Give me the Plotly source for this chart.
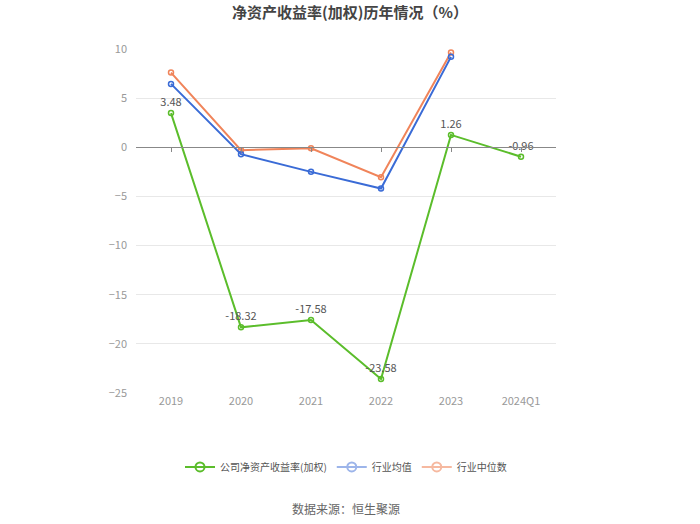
import plotly.graph_objects as go

categories = ["2019", "2020", "2021", "2022", "2023", "2024Q1"]
company_roe = [3.48, -18.32, -17.58, -23.58, 1.26, -0.96]
industry_avg = [6.45, -0.7, -2.5, -4.2, 9.2, None]
industry_median = [7.6, -0.3, -0.1, -3.05, 9.65, None]
y_ticks = [10, 5, 0, -5, -10, -15, -20, -25]

GREEN = "#5bbd2b"
BLUE = "#3a6bd6"
ORANGE = "#f0845a"
FONT = "Noto Sans CJK SC"

fig = go.Figure()

fig.add_trace(go.Scatter(
    x=categories, y=industry_median, mode="lines+markers",
    line=dict(color=ORANGE, width=2),
    marker=dict(symbol="circle-open", size=5, color=ORANGE, line=dict(width=1.5)),
    showlegend=False, hoverinfo="skip", cliponaxis=False))
fig.add_trace(go.Scatter(
    x=categories, y=industry_avg, mode="lines+markers",
    line=dict(color=BLUE, width=2),
    marker=dict(symbol="circle-open", size=5, color=BLUE, line=dict(width=1.5)),
    showlegend=False, hoverinfo="skip", cliponaxis=False))
fig.add_trace(go.Scatter(
    x=categories, y=company_roe, mode="lines+markers+text",
    line=dict(color=GREEN, width=2),
    marker=dict(symbol="circle-open", size=5, color=GREEN, line=dict(width=1.5)),
    text=[f"{v:.2f}" for v in company_roe], textposition="top center",
    textfont=dict(family=FONT, size=11, color="#555555"),
    showlegend=False, hoverinfo="skip", cliponaxis=False))

# legend entries
for name, col in [("公司净资产收益率(加权)", GREEN), ("行业均值", "#9db5ea"), ("行业中位数", "#f6b9a0")]:
    fig.add_trace(go.Scatter(
        x=[None], y=[None], mode="lines+markers", name=name,
        line=dict(color=col, width=2),
        marker=dict(symbol="circle-open", size=9, color=col, line=dict(width=2))))

# invisible trace for tick marks on the zero line
fig.add_trace(go.Scatter(x=categories, y=[None] * len(categories), xaxis="x2",
                         showlegend=False, hoverinfo="skip"))

fig.update_layout(
    width=700, height=524,
    paper_bgcolor="white", plot_bgcolor="white",
    margin=dict(l=136, r=144, t=49, b=131),
    title=dict(text="<b>净资产收益率(加权)历年情况（%）</b>", x=0.5, xanchor="center",
               y=0.975, yanchor="middle",
               font=dict(family=FONT, size=15, color="#444444")),
    font=dict(family=FONT, color="#999999", size=11),
    xaxis=dict(type="category", categoryorder="array", categoryarray=categories,
               range=[-0.5, 5.5], showgrid=False, zeroline=False, showline=False,
               ticks="", tickfont=dict(size=11, color="#999999")),
    xaxis2=dict(type="category", categoryorder="array", categoryarray=categories,
                range=[-0.5, 5.5], overlaying="x", anchor="free",
                position=25 / 35, side="bottom",
                showgrid=False, zeroline=False, showline=True, linecolor="#888888",
                linewidth=1, ticks="outside", ticklen=4, tickcolor="#888888",
                showticklabels=False),
    yaxis=dict(range=[-25, 10], tickvals=y_ticks, showgrid=True, gridcolor="#e8e8e8",
               zeroline=False, showline=False, ticks="", ticklabelstandoff=8,
               tickfont=dict(size=11, color="#999999")),
    legend=dict(orientation="h", x=0.5, xanchor="center", y=-0.215, yanchor="middle",
                font=dict(family=FONT, size=10, color="#555555"),
                itemwidth=30, tracegroupgap=0),
    annotations=[dict(text="数据来源：恒生聚源", x=0.5, xref="paper", xanchor="center",
                      y=-0.335, yref="paper", yanchor="middle", showarrow=False,
                      font=dict(family=FONT, size=12, color="#666666"))],
)

fig.write_html("out.html")
